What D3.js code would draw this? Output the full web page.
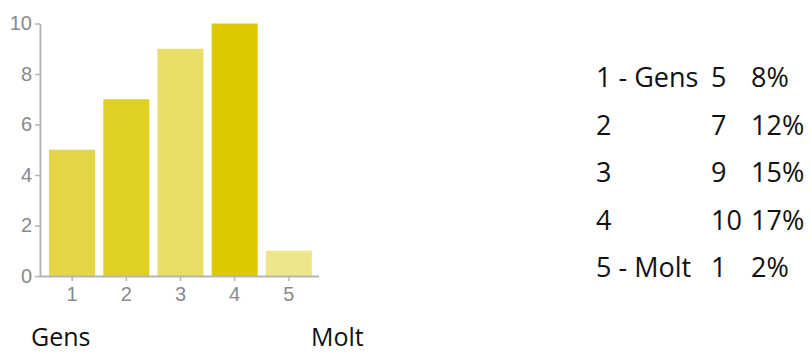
<!DOCTYPE html>
<html>
<head>
<meta charset="utf-8">
<script src="https://cdn.jsdelivr.net/npm/d3@7"></script>
<style>
  body { margin: 0; background: #fff; }
  svg { display: block; }
</style>
</head>
<body>
<svg width="811" height="354"></svg>
<script>
// answers on a 1..5 scale (Gens -> Molt)
var categories = ["1", "2", "3", "4", "5"];
var counts = [5, 7, 9, 10, 1];
var bar_colors = ["#e4d544", "#e0d023", "#e8dd67", "#dbca00", "#ede68b"];
var y_ticks = [0, 2, 4, 6, 8, 10];

// summary table on the right
var row_labels = ["1 - Gens", "2", "3", "4", "5 - Molt"];
var row_counts = ["5", "7", "9", "10", "1"];
var row_pcts = ["8%", "12%", "15%", "17%", "2%"];

var low_label = "Gens";
var high_label = "Molt";

const AXIS_COLOR = '#b5b5b5';
const TICK_TEXT = '#8a8a8a';
const TEXT_FONT = '"Open Sans", sans-serif';

var svg = d3.select("svg");

var x = d3.scaleBand()
    .domain(categories)
    .range([41, 320])
    .paddingInner(0.15)
    .paddingOuter(0.15);

var y = d3.scaleLinear()
    .domain([0, 10])
    .range([276, 23.5]);

// bars
svg.append("g")
    .selectAll("rect")
    .data(counts)
    .enter().append("rect")
    .attr("x", function(d, i) { return x(categories[i]); })
    .attr("y", function(d) { return y(d); })
    .attr("width", x.bandwidth())
    .attr("height", function(d) { return y(0) - y(d); })
    .attr("fill", function(d, i) { return bar_colors[i]; });

// y axis
var y_axis = svg.append("g")
    .attr("transform", "translate(40,0)")
    .call(d3.axisLeft(y).tickValues(y_ticks).tickSize(5).tickPadding(3).tickSizeOuter(0));

// x axis
var x_axis = svg.append("g")
    .attr("transform", "translate(0,276)")
    .call(d3.axisBottom(x).tickSize(5).tickPadding(6).tickSizeOuter(0));

x_axis.select(".domain").attr("d", "M40,0.5H319");

[y_axis, x_axis].forEach(function(ax){
    ax.attr("font-size", null);
    ax.select(".domain").attr("stroke", AXIS_COLOR).attr("stroke-width", 2);
    ax.selectAll(".tick line").attr("stroke", AXIS_COLOR).attr("stroke-width", 1.5);
    ax.selectAll(".tick text")
        .attr("fill", TICK_TEXT)
        .style("font-family", "Arial, 'Liberation Sans', sans-serif")
        .style("font-size", "20px");
});

// labels under the chart
svg.append("text")
    .attr("x", 31).attr("y", 346)
    .style("font-family", TEXT_FONT).style("font-size", "25px")
    .attr("fill", "#111")
    .text(low_label);

svg.append("text")
    .attr("x", 311).attr("y", 346)
    .style("font-family", TEXT_FONT).style("font-size", "25px")
    .attr("fill", "#111")
    .text(high_label);

// table on the right
var rows = svg.append("g")
    .selectAll("g")
    .data(row_labels)
    .enter().append("g")
    .attr("transform", function(d, i) { return "translate(0," + (87 + i * 47.5) + ")"; })
    .style("font-family", TEXT_FONT)
    .style("font-size", "27px")
    .attr("fill", "#111");

rows.append("text").attr("x", 596).text(function(d) { return d; });
rows.append("text").attr("x", 711).text(function(d, i) { return row_counts[i]; });
rows.append("text").attr("x", 751).text(function(d, i) { return row_pcts[i]; });
</script>
</body>
</html>
